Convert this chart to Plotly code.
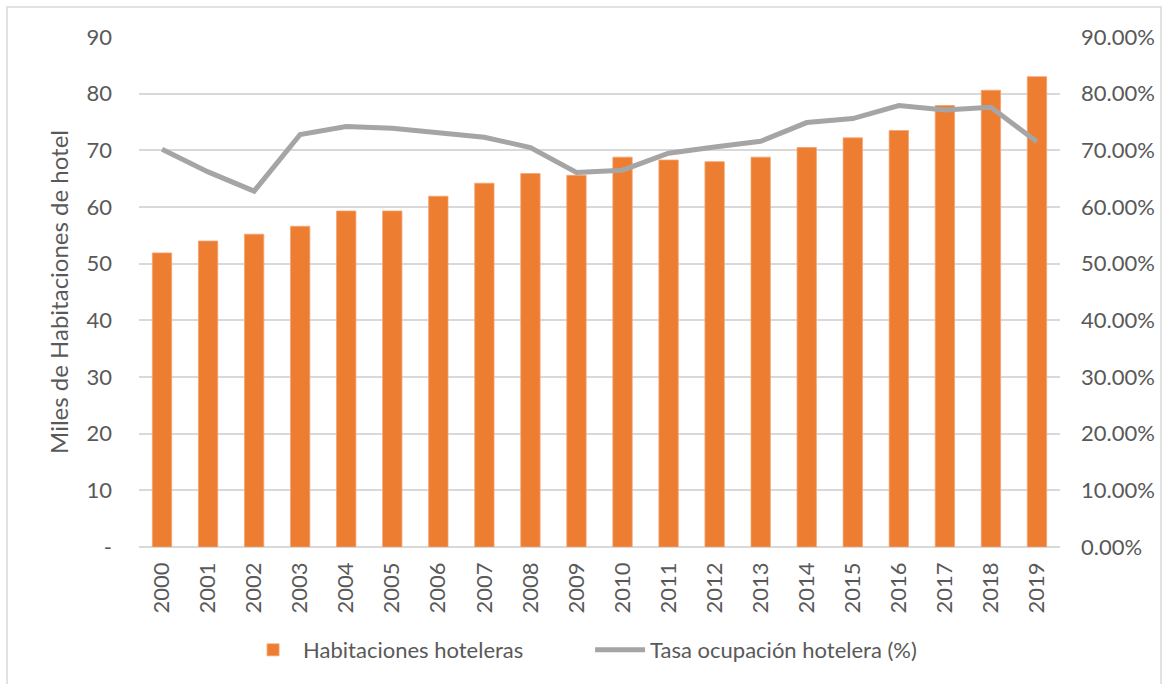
import plotly.graph_objects as go

years = [str(y) for y in range(2000, 2020)]
habitaciones = [51.9, 54.0, 55.2, 56.6, 59.3, 59.3, 61.9, 64.2, 65.9, 65.6,
                68.8, 68.3, 68.0, 68.8, 70.5, 72.2, 73.5, 77.9, 80.6, 83.0]
tasa = [70.2, 66.2, 62.8, 72.8, 74.2, 73.9, 73.1, 72.3, 70.5, 66.1,
        66.5, 69.5, 70.6, 71.6, 74.9, 75.6, 77.9, 77.1, 77.6, 71.5]
tasa_frac = [v / 100 for v in tasa]

left_ticks = [0, 10, 20, 30, 40, 50, 60, 70, 80, 90]
left_text = ["-", "10", "20", "30", "40", "50", "60", "70", "80", "90"]

FONT = "Lato"
TXT = "#595959"
TICK = 22

fig = go.Figure()
fig.add_trace(go.Bar(x=years, y=habitaciones, name="Habitaciones hoteleras",
                     marker=dict(color="#ed7d31", line=dict(color="#f4a572", width=0.8)),
                     yaxis="y"))
fig.add_trace(go.Scatter(x=years, y=tasa_frac, name="Tasa ocupación hotelera (%)",
                         mode="lines", line=dict(color="#a5a5a5", width=5),
                         yaxis="y2"))

fig.update_layout(
    width=1162, height=684,
    margin=dict(l=139, r=102, t=37, b=137, autoexpand=False),
    paper_bgcolor="white", plot_bgcolor="white",
    font=dict(family=FONT, size=TICK, color=TXT),
    bargap=0.58,
    showlegend=True,
    legend=dict(orientation="h", x=0.113, xanchor="left", y=-0.202, yanchor="middle",
                font=dict(family=FONT, size=TICK, color=TXT), itemwidth=50,
                entrywidth=282),
    xaxis=dict(type="category", tickangle=-90, showgrid=False,
               showline=False, ticks="", ticklabelstandoff=10,
               tickfont=dict(family=FONT, size=TICK, color=TXT)),
    yaxis=dict(range=[0, 90], tickvals=left_ticks, ticktext=left_text,
               showgrid=True, gridcolor="#d9d9d9", gridwidth=1.5,
               zeroline=True, zerolinecolor="#d9d9d9", zerolinewidth=1.5,
               showline=False, ticks="", ticklabelstandoff=26,
               tickfont=dict(family=FONT, size=TICK, color=TXT),
               title=dict(text="Miles de Habitaciones de hotel", standoff=11,
                          font=dict(family=FONT, size=24, color=TXT))),
    yaxis2=dict(range=[0, 0.9], dtick=0.1, tick0=0, tickformat=".2%",
                overlaying="y", side="right", showgrid=False, zeroline=False,
                showline=False, ticks="", ticklabelstandoff=20,
                tickfont=dict(family=FONT, size=TICK, color=TXT)),
    shapes=[dict(type="rect", xref="paper", yref="paper",
                 x0=-0.1433, x1=1.1097, y0=-0.29, y1=1.0588,
                 line=dict(color="#d9d9d9", width=1.5), fillcolor="rgba(0,0,0,0)",
                 layer="below")],
)

fig.write_html("out.html", config={"displayModeBar": False},
               post_script="document.body.style.margin='0';document.body.style.overflow='hidden';")
